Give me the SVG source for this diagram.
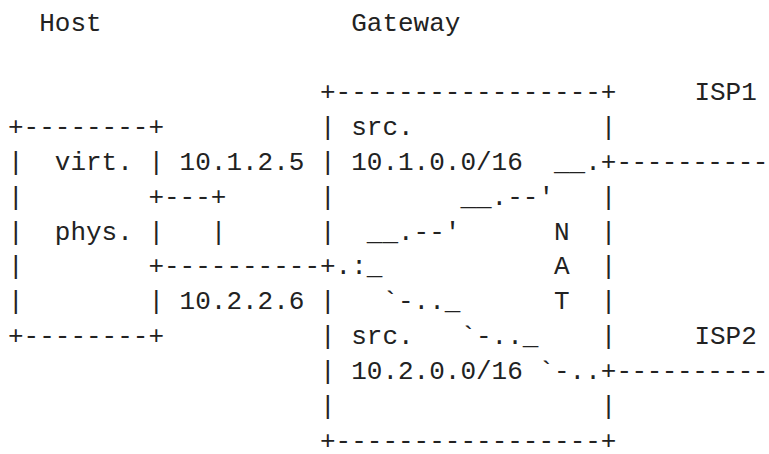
<svg xmlns="http://www.w3.org/2000/svg" width="769" height="454" viewBox="0 0 769 454">
<style>
text{font-family:"Liberation Mono","DejaVu Sans Mono",monospace;font-size:26px;fill:#222;white-space:pre}
</style>
<rect width="769" height="454" fill="#fff"/>
<g id="host">
<text x="39.2" y="30.5">Host</text>
<text x="8" y="135.05">+--------+</text>
<text x="8" y="169.9">|</text>
<text x="8" y="204.75">|</text>
<text x="8" y="239.6">|</text>
<text x="8" y="274.45">|</text>
<text x="8" y="309.3">|</text>
<text x="148.4" y="169.9">|</text>
<text x="148.4" y="204.75">+</text>
<text x="148.4" y="239.6">|</text>
<text x="148.4" y="274.45">+</text>
<text x="148.4" y="309.3">|</text>
<text x="8" y="344.15">+--------+</text>
<text x="54.8" y="169.9">virt.</text>
<text x="54.8" y="239.6">phys.</text>
</g>
<g id="gateway">
<text x="351.2" y="30.5">Gateway</text>
<text x="320" y="100.2">+-----------------+</text>
<text x="320" y="135.05">|</text>
<text x="320" y="169.9">|</text>
<text x="320" y="204.75">|</text>
<text x="320" y="239.6">|</text>
<text x="320" y="274.45">+</text>
<text x="320" y="309.3">|</text>
<text x="320" y="344.15">|</text>
<text x="320" y="379">|</text>
<text x="320" y="413.85">|</text>
<text x="600.8" y="135.05">|</text>
<text x="600.8" y="169.9">+</text>
<text x="600.8" y="204.75">|</text>
<text x="600.8" y="239.6">|</text>
<text x="600.8" y="274.45">|</text>
<text x="600.8" y="309.3">|</text>
<text x="600.8" y="344.15">|</text>
<text x="600.8" y="379">+</text>
<text x="600.8" y="413.85">|</text>
<text x="320" y="448.7">+-----------------+</text>
<text x="351.2" y="135.05">src.</text>
<text x="351.2" y="169.9">10.1.0.0/16</text>
<text x="351.2" y="344.15">src.</text>
<text x="351.2" y="379">10.2.0.0/16</text>
<text x="554" y="239.6">N</text>
<text x="554" y="274.45">A</text>
<text x="554" y="309.3">T</text>
</g>
<g id="connectors">
<text x="179.6" y="169.9">10.1.2.5</text>
<text x="164" y="204.75">---+</text>
<text x="210.8" y="239.6">|</text>
<text x="164" y="274.45">----------</text>
<text x="335.6" y="274.45">.:_</text>
<text x="179.6" y="309.3">10.2.2.6</text>
<text x="554" y="169.9">__.</text>
<text x="616.4" y="169.9" textLength="152" lengthAdjust="spacing">----------</text>
<text x="460.4" y="204.75">__.--'</text>
<text x="366.8" y="239.6">__.--'</text>
<text x="382.4" y="309.3">`-.._</text>
<text x="460.4" y="344.15">`-.._</text>
<text x="538.4" y="379">`-..</text>
<text x="616.4" y="379" textLength="152" lengthAdjust="spacing">----------</text>
</g>
<g id="isp1"><text x="694.4" y="100.2">ISP1</text></g>
<g id="isp2"><text x="694.4" y="344.15">ISP2</text></g>
</svg>
